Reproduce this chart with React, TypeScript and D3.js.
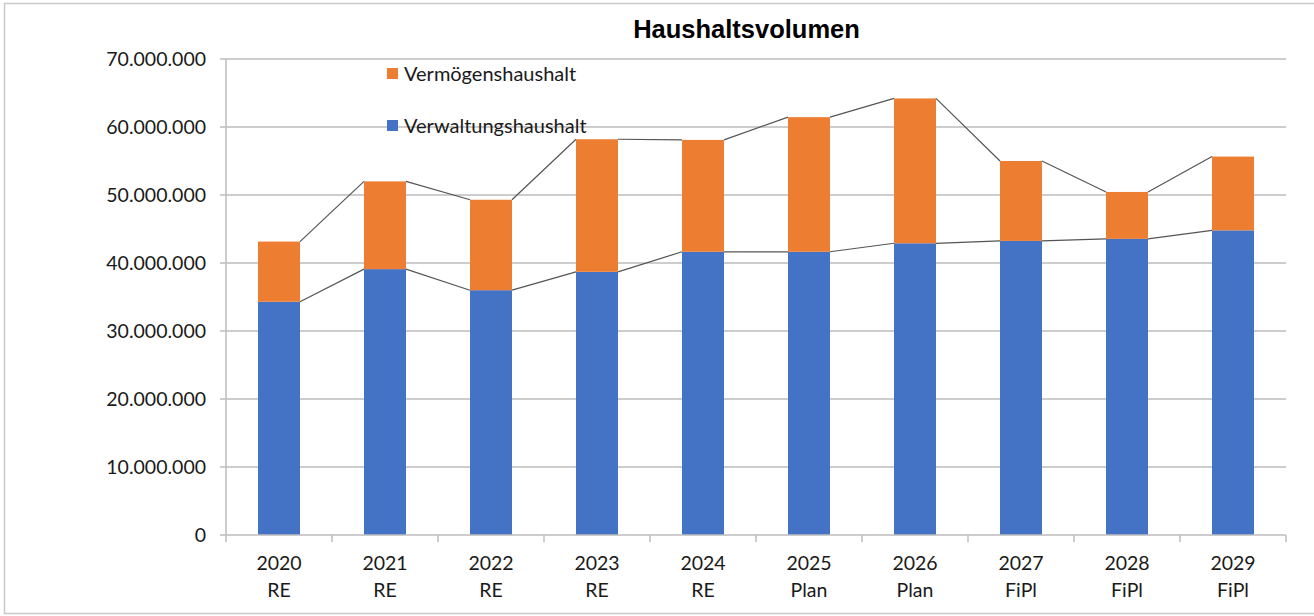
import { scaleBand, scaleLinear, range } from "d3";

const width = 1314;
const height = 616;

const years = ["2020", "2021", "2022", "2023", "2024", "2025", "2026", "2027", "2028", "2029"];
const kinds = ["RE", "RE", "RE", "RE", "RE", "Plan", "Plan", "FiPl", "FiPl", "FiPl"];
// Verwaltungshaushalt (bottom) and total volume (top of the stack)
const verwaltung = [34300000, 39100000, 36000000, 38700000, 41650000, 41650000, 42900000, 43250000, 43550000, 44800000];
const gesamt = [43150000, 52000000, 49300000, 58200000, 58100000, 61450000, 64200000, 55000000, 50450000, 55650000];
const yTicks = [0, 10000000, 20000000, 30000000, 40000000, 50000000, 60000000, 70000000];

const blue = "#4472C4";
const orange = "#ED7D31";
const labelFont = "Lato, 'Open Sans', sans-serif";
const labelSize = 19.5;

const left = 226;
const right = 1286;
const top = 59;
const bottom = 535;

function fmt(v: number) {
  return v.toString().replace(/\B(?=(\d{3})+(?!\d))/g, ".");
}

export default function App() {
  const x = scaleBand<string>()
    .domain(years)
    .range([left, right])
    .paddingInner(0.604)
    .paddingOuter(0.302);
  const y = scaleLinear().domain([0, 70000000]).range([bottom, top]);
  const step = x.step();
  const bw = x.bandwidth();

  const seriesLine = (vals: number[]) =>
    range(vals.length - 1)
      .map((i) => {
        const x1 = (x(years[i]) as number) + bw;
        const x2 = x(years[i + 1]) as number;
        return `M${x1},${y(vals[i])}L${x2},${y(vals[i + 1])}`;
      })
      .join("");

  return (
    <svg width={width} height={height} style={{ position: "absolute", left: 0, top: 0, background: "#fff" }}>
      <rect x={4.5} y={3.5} width={1320} height={610} fill="#fff" stroke="#c9c9c9" strokeWidth={1.5} />
      <text x={746.5} y={38} textAnchor="middle" fontFamily="'Liberation Sans', Arial, sans-serif" fontWeight="bold" fontSize={25.5} fill="#000">
        Haushaltsvolumen
      </text>

      {/* gridlines */}
      {yTicks.map((t) => (
        <g key={t}>
          {t > 0 && <line x1={left} x2={right} y1={y(t)} y2={y(t)} stroke="#bdbdbd" strokeWidth={1.5} />}
          <line x1={left - 6} x2={left} y1={y(t)} y2={y(t)} stroke="#bdbdbd" strokeWidth={1.5} />
          <text x={206} y={y(t)} dy="0.35em" textAnchor="end" fontFamily={labelFont} fontSize={labelSize} fill="#1a1a1a">
            {fmt(t)}
          </text>
        </g>
      ))}
      <line x1={left} x2={left} y1={top} y2={bottom} stroke="#bdbdbd" strokeWidth={1.5} />

      {/* bars */}
      {years.map((yr, i) => (
        <g key={yr}>
          <rect x={x(yr)} y={y(verwaltung[i])} width={bw} height={y(0) - y(verwaltung[i])} fill={blue} />
          <rect x={x(yr)} y={y(gesamt[i])} width={bw} height={y(verwaltung[i]) - y(gesamt[i])} fill={orange} />
        </g>
      ))}

      {/* series lines */}
      <path d={seriesLine(verwaltung)} fill="none" stroke="#555" strokeWidth={1.2} />
      <path d={seriesLine(gesamt)} fill="none" stroke="#555" strokeWidth={1.2} />

      {/* x axis */}
      <line x1={left} x2={right} y1={bottom} y2={bottom} stroke="#bdbdbd" strokeWidth={1.5} />
      {range(years.length + 1).map((i) => (
        <line key={i} x1={left + i * step} x2={left + i * step} y1={bottom} y2={bottom + 7} stroke="#bdbdbd" strokeWidth={1.5} />
      ))}
      {years.map((yr, i) => (
        <g key={yr} fontFamily={labelFont} fontSize={labelSize} fill="#1a1a1a" textAnchor="middle">
          <text x={(x(yr) as number) + bw / 2} y={563} dy="0.35em">{yr}</text>
          <text x={(x(yr) as number) + bw / 2} y={590} dy="0.35em">{kinds[i]}</text>
        </g>
      ))}

      {/* legend */}
      <rect x={387} y={68} width={11} height={11} fill={orange} />
      <text x={404} y={73.5} dy="0.35em" fontFamily={labelFont} fontSize={20} fill="#1a1a1a">Vermögenshaushalt</text>
      <rect x={387} y={120} width={11} height={11} fill={blue} />
      <text x={404} y={125.5} dy="0.35em" fontFamily={labelFont} fontSize={20} fill="#1a1a1a">Verwaltungshaushalt</text>
    </svg>
  );
}
